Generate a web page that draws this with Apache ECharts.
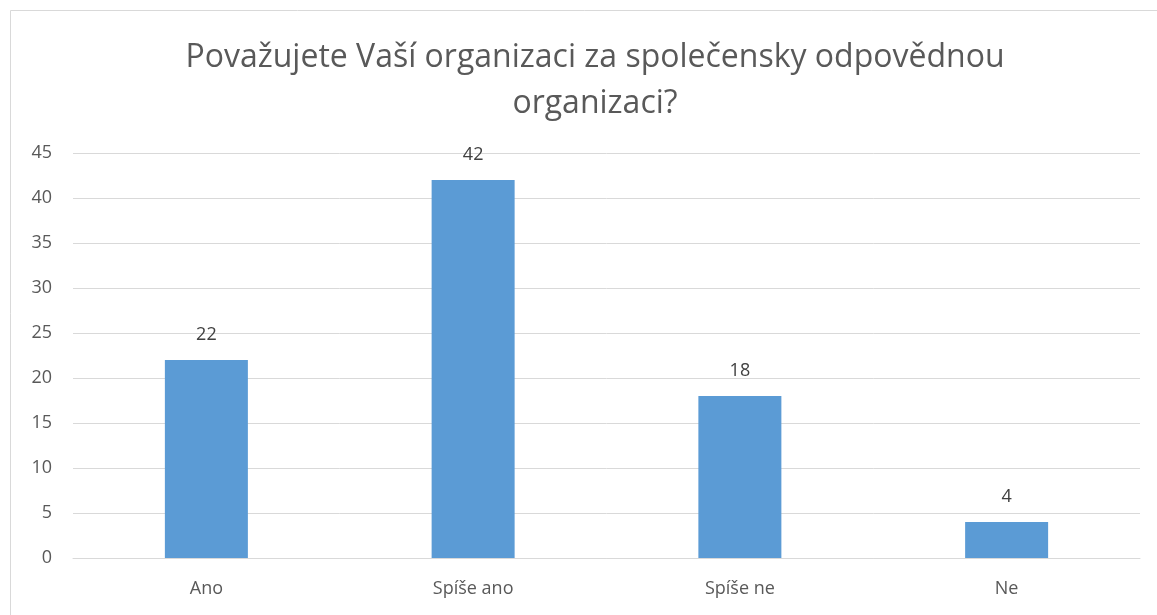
<!DOCTYPE html>
<html>
<head>
<meta charset="utf-8">
<script src="https://cdn.jsdelivr.net/npm/echarts@6/dist/echarts.min.js"></script>
<style>
  html, body { margin: 0; padding: 0; background: #fff; }
  #chart { width: 1157px; height: 615px; }
</style>
</head>
<body>
<div id="chart"></div>
<script>
// data
const categories = ['Ano', 'Spíše ano', 'Spíše ne', 'Ne'];
const values = [22, 42, 18, 4];
const titleText = 'Považujete Vaší organizaci za společensky odpovědnou\norganizaci?';

const font = '"Open Sans", "Noto Sans", sans-serif';
const textColor = '#595959';

const chart = echarts.init(document.getElementById('chart'));
const option = {
  animation: false,
  backgroundColor: '#fff',
  graphic: [{
    type: 'rect',
    shape: { x: 10.5, y: 10.5, width: 1160, height: 620 },
    style: { fill: 'none', stroke: '#d9d9d9', lineWidth: 1 },
    silent: true
  }],
  title: {
    text: titleText,
    left: 590,
    textAlign: 'center',
    top: 30,
    textStyle: {
      fontFamily: font,
      fontSize: 32,
      fontWeight: 'normal',
      color: textColor,
      lineHeight: 46
    }
  },
  grid: { left: 73, right: 17, top: 153, bottom: 57 },
  xAxis: {
    type: 'category',
    data: categories,
    axisTick: { show: false },
    axisLine: { lineStyle: { color: '#d9d9d9', width: 1 } },
    axisLabel: { color: textColor, fontFamily: font, fontSize: 18, margin: 22 }
  },
  yAxis: {
    type: 'value',
    min: 0,
    max: 45,
    interval: 5,
    axisLine: { show: false },
    axisTick: { show: false },
    splitLine: { lineStyle: { color: '#d9d9d9', width: 1 } },
    axisLabel: { color: textColor, fontFamily: font, fontSize: 18, margin: 21 }
  },
  series: [{
    type: 'bar',
    data: values,
    barWidth: 83,
    itemStyle: { color: '#5b9bd5' },
    label: {
      show: true,
      position: 'top',
      distance: 16,
      color: '#404040',
      fontFamily: font,
      fontSize: 18
    }
  }]
};
chart.setOption(option);
</script>
</body>
</html>
